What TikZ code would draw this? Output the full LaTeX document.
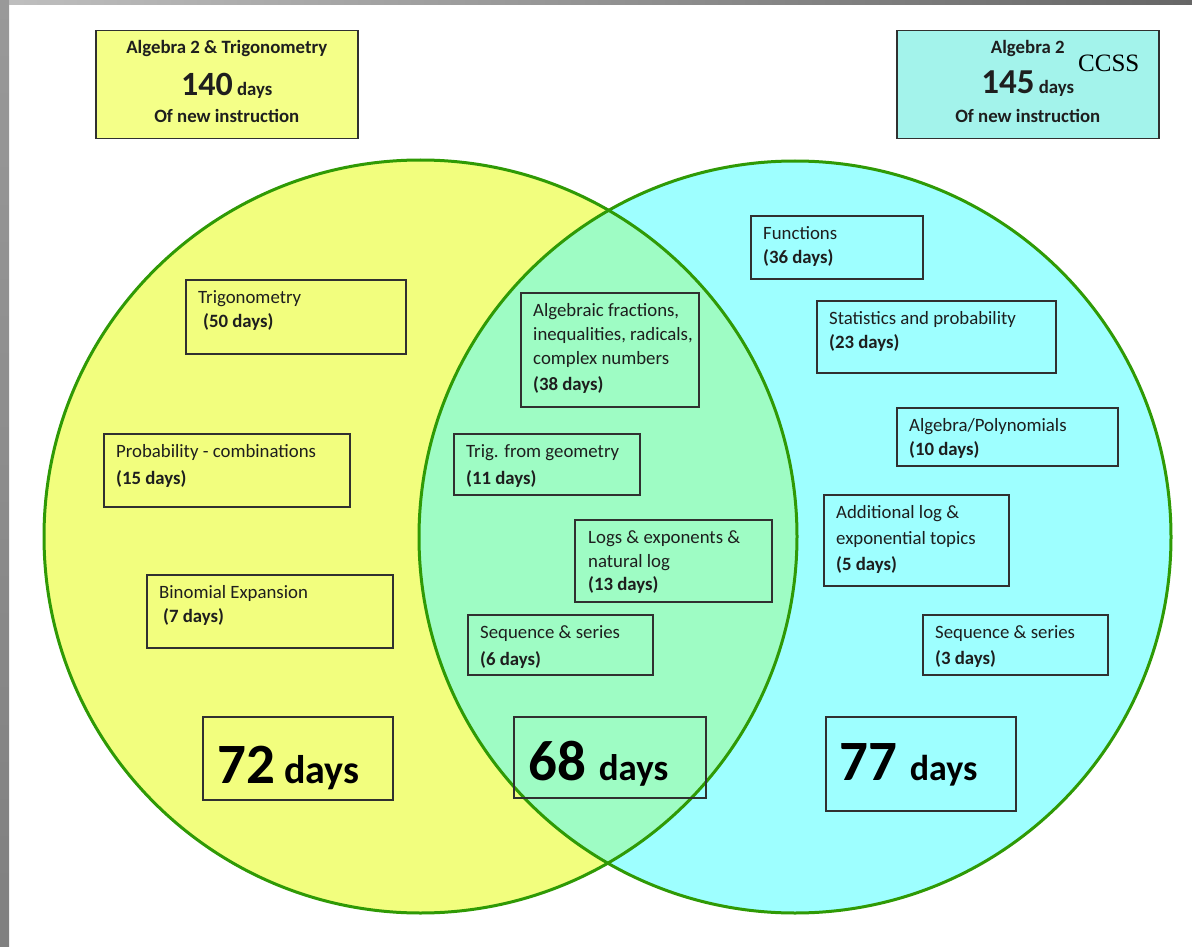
\documentclass[tikz,border=0pt]{standalone}
\usepackage{fontspec}
\setmainfont{Carlito}
\newfontfamily\ccssfont{Liberation Serif}
\usetikzlibrary{positioning}

\definecolor{venyel}{HTML}{F2FE7E}
\definecolor{vencya}{HTML}{9EFFFF}
\definecolor{venlens}{HTML}{9EFCC4}
\definecolor{venline}{HTML}{2F9A05}
\definecolor{hdyel}{HTML}{F4FF88}
\definecolor{hdcya}{HTML}{A3F3EB}
\definecolor{boxline}{HTML}{303030}
\definecolor{inkc}{HTML}{1E1E1E}

\newcommand\lblfont{\fontsize{18.8pt}{24pt}\selectfont}

\begin{document}
\begin{tikzpicture}[
  x=1pt, y=-1pt,
  topic/.style={rectangle, draw=boxline, line width=1.5pt, inner sep=0pt, anchor=north west},
  txt/.style={anchor=north west, inner sep=0pt, align=left, font=\lblfont, text=inkc},
  hdtxt/.style={anchor=base, inner sep=0pt, font=\lblfont\bfseries, text=inkc},
  bignum/.style={anchor=base west, inner sep=0pt, font=\bfseries, text=black},
  ring/.style={draw=venline, line width=3pt}
]
\useasboundingbox (0,0) rectangle (1192,947);
\fill[white] (0,0) rectangle (1192,947);
% frame of the slide
\shade[left color=black!25, right color=black!60] (0,0) rectangle (1192,5);
\shade[top color=black!40, bottom color=black!50] (0,0) rectangle (9,947);

% the two sets
\coordinate (cL) at (420.5,536.5);
\coordinate (cR) at (795,537);
\fill[venyel] (cL) circle[radius=376.5];
\fill[vencya] (cR) circle[radius=376];
\begin{scope}
  \clip (cL) circle[radius=376.5];
  \fill[venlens] (cR) circle[radius=376];
\end{scope}
\draw[ring] (cL) circle[radius=376.5];
\draw[ring] (cR) circle[radius=376];

% headers
\node[topic, fill=hdyel, minimum width=262, minimum height=108] (hdL) at (95,30) {};
\node[hdtxt] (hdLtitle) at ([yshift=-24pt]hdL.north) {Algebra 2 \& Trigonometry};
\node[hdtxt] (hdLdays) at ([yshift=-66pt]hdL.north) {{\fontsize{34pt}{34pt}\selectfont 140} days};
\node[hdtxt] (hdLnote) at ([yshift=-93pt]hdL.north) {Of new instruction};

\node[topic, fill=hdcya, minimum width=262, minimum height=108] (hdR) at (896,30) {};
\node[hdtxt] (hdRtitle) at ([yshift=-24pt]hdR.north) {Algebra 2};
\node[hdtxt] (hdRdays) at ([yshift=-64pt]hdR.north) {{\fontsize{35pt}{35pt}\selectfont 145} days};
\node[hdtxt] (hdRnote) at ([yshift=-93pt]hdR.north) {Of new instruction};
\node[anchor=base west, inner sep=0pt, font=\ccssfont\fontsize{25pt}{25pt}\selectfont] (ccss) at ([xshift=182pt,yshift=-42pt]hdR.north west) {CCSS};

% Algebra 2 & Trigonometry only
\node[topic, minimum width=220, minimum height=74] (trig) at (185,279) {};
\node[txt] (trigT) at ([xshift=13pt,yshift=-7.2pt]trig.north west) {\strut Trigonometry\\\hspace*{5pt}\textbf{(50 days)}};
\node[topic, minimum width=246, minimum height=73] (prob) at (103,433) {};
\node[txt] (probT) at ([xshift=13pt,yshift=-7.2pt]prob.north west) {\strut Probability - combinations\\[3pt]\textbf{(15 days)}};
\node[topic, minimum width=246, minimum height=73] (binom) at (146,574) {};
\node[txt] (binomT) at ([xshift=13pt,yshift=-7.2pt]binom.north west) {\strut Binomial Expansion\\\hspace*{4pt}\textbf{(7 days)}};
\node[topic, minimum width=190, minimum height=83] (tot72) at (202,716) {};
\node[bignum] (tot72T) at ([xshift=15pt,yshift=-67pt]tot72.north west) {\fontsize{57pt}{57pt}\selectfont 72{\fontsize{40pt}{40pt}\selectfont{} days}};

% both courses
\node[topic, minimum width=178, minimum height=114] (algfr) at (520,292) {};
\node[txt] (algfrT) at ([xshift=13pt,yshift=-7.2pt]algfr.north west) {\strut Algebraic fractions,\\inequalities, radicals,\\complex numbers\\[2pt]\textbf{(38 days)}};
\node[topic, minimum width=186, minimum height=61] (trgeo) at (453,433) {};
\node[txt] (trgeoT) at ([xshift=13pt,yshift=-7.2pt]trgeo.north west) {\strut Trig. from geometry\\[3pt]\textbf{(11 days)}};
\node[topic, minimum width=197, minimum height=82] (logs) at (574,519) {};
\node[txt] (logsT) at ([xshift=14pt,yshift=-7.2pt]logs.north west) {\strut Logs \& exponents \&\\natural log\\[-1pt]\textbf{(13 days)}};
\node[topic, minimum width=185, minimum height=60] (seqL) at (467,614) {};
\node[txt] (seqLT) at ([xshift=13pt,yshift=-7.2pt]seqL.north west) {\strut Sequence \& series\\[3pt]\textbf{(6 days)}};
\node[topic, minimum width=192, minimum height=81] (tot68) at (513,716) {};
\node[bignum] (tot68T) at ([xshift=15pt,yshift=-64pt]tot68.north west) {\fontsize{57pt}{57pt}\selectfont 68 {\fontsize{37pt}{37pt}\selectfont days}};

% Algebra 2 (CCSS) only
\node[topic, minimum width=172, minimum height=63] (func) at (750,215) {};
\node[txt] (funcT) at ([xshift=13pt,yshift=-7.2pt]func.north west) {\strut Functions\\\textbf{(36 days)}};
\node[topic, minimum width=239, minimum height=72] (stat) at (816,300) {};
\node[txt] (statT) at ([xshift=13pt,yshift=-7.2pt]stat.north west) {\strut Statistics and probability\\\textbf{(23 days)}};
\node[topic, minimum width=221, minimum height=58] (apoly) at (896,407) {};
\node[txt] (apolyT) at ([xshift=13pt,yshift=-7.2pt]apoly.north west) {\strut Algebra/Polynomials\\\textbf{(10 days)}};
\node[topic, minimum width=185, minimum height=91] (addlog) at (823,494) {};
\node[txt] (addlogT) at ([xshift=13pt,yshift=-7.2pt]addlog.north west) {\strut Additional log \&\\[2pt]exponential topics\\[2pt]\textbf{(5 days)}};
\node[topic, minimum width=185, minimum height=60] (seqR) at (922,614) {};
\node[txt] (seqRT) at ([xshift=13pt,yshift=-7.2pt]seqR.north west) {\strut Sequence \& series\\[2pt]\textbf{(3 days)}};
\node[topic, minimum width=190, minimum height=94] (tot77) at (825,716) {};
\node[bignum] (tot77T) at ([xshift=14pt,yshift=-64pt]tot77.north west) {\fontsize{57pt}{57pt}\selectfont 77 {\fontsize{36pt}{36pt}\selectfont days}};

\end{tikzpicture}
\end{document}
